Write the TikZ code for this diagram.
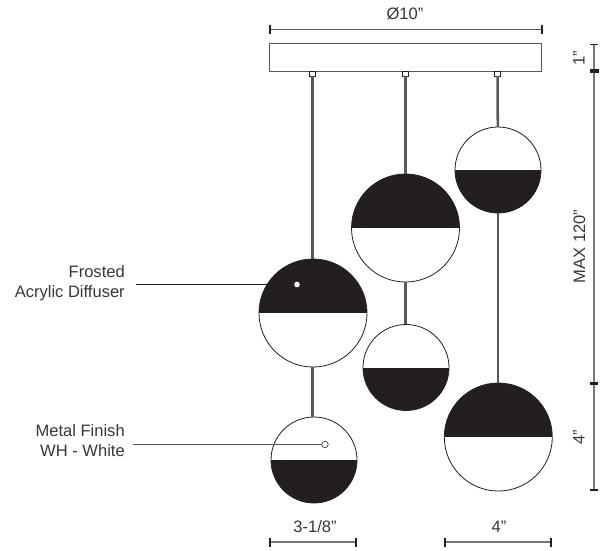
\documentclass[tikz,border=0pt]{standalone}
\usepackage{fontspec}
\setmainfont{Liberation Sans}
\definecolor{ink}{HTML}{231F20}
\definecolor{cordc}{HTML}{58595B}
\definecolor{dimc}{HTML}{77787B}
\tikzset{
  x=0.75pt,y=-0.75pt,
  lampbase/.style={circle,draw=ink,line width=0.6pt,fill=white,inner sep=0pt,outer sep=0pt},
  lamptop/.style={lampbase,minimum size=#1*0.75pt,path picture={
    \fill[ink] (path picture bounding box.north west) rectangle (path picture bounding box.east);}},
  lampbot/.style={lampbase,minimum size=#1*0.75pt,path picture={
    \fill[ink] (path picture bounding box.west) rectangle (path picture bounding box.south east);}},
  mount/.style={draw=ink,line width=0.4pt,fill=white,minimum width=4.2pt,minimum height=3.6pt,inner sep=0pt,outer sep=0pt},
  canopy/.style={draw=cordc,line width=0.7pt,fill=white,minimum width=204pt,minimum height=20.4pt,inner sep=0pt,outer sep=0pt},
  cord/.style={draw=cordc,line width=1.9pt},
  dimline/.style={draw=dimc,line width=1.1pt},
  dimtick/.style={draw=ink,line width=1.1pt},
  leader/.style={draw=ink,line width=0.9pt},
  lbl/.style={font=\fontsize{12.4pt}{15pt}\selectfont,text=ink!90!white,inner sep=0pt},
  lblr/.style={lbl,align=right,anchor=east},
}
\begin{document}
\begin{tikzpicture}
\useasboundingbox (0,0) rectangle (605,550);
% canopy and mounts
\node[canopy] (can) at (405.6,57.5) {};
\node[mount] (m1) at (312.3,73.5) {};
\node[mount] (m2) at (405.5,73.5) {};
\node[mount] (m3) at (497.5,73.5) {};
% lamps
\node[lamptop=108] (a) at (313,313) {};
\node[lampbot=86] (b) at (314,460) {};
\node[lamptop=108] (c) at (405.5,228) {};
\node[lampbot=86] (d) at (406,367.5) {};
\node[lampbot=86] (e) at (498,170) {};
\node[lamptop=108] (f) at (498.3,437) {};
% cords
\draw[cord] (m1.south) -- (312.3,259);
\draw[cord] (312.3,367) -- (312.3,417);
\draw[cord] (m2.south) -- (405.5,174);
\draw[cord] (405.5,282) -- (405.5,324);
\draw[cord] (m3.south) -- (497.8,127);
\draw[cord] (497.8,213) -- (497.8,383);
% top dimension
\coordinate (t1) at (270,29.5);
\coordinate (t2) at (542,29.5);
\draw[dimline,draw=cordc] (t1) -- (t2);
\draw[dimtick] (270,25) -- (270,34);
\draw[dimtick] (542,25) -- (542,34);
\node[lbl] (tt) at (405,14) {Ø10”};
% right dimension
\coordinate (r1) at (594,44.7);
\coordinate (r2) at (594,490);
\draw[dimline] (r1) -- (r2);
\draw[dimtick] (590,44.7) -- (598,44.7);
\draw[dimtick,line width=2.6pt] (590,71) -- (599,71);
\draw[dimtick,line width=1.6pt] (590,383.5) -- (598,383.5);
\draw[dimtick] (590,490) -- (598,490);
\node[lbl,rotate=90] (r1t) at (579,58) {1”};
\node[lbl,rotate=90] (r2t) at (579.5,246.5) {MAX 120”};
\node[lbl,rotate=90] (r3t) at (579,437) {4”};
% bottom dimensions
\coordinate (b1) at (270,542);
\coordinate (b2) at (356,542);
\coordinate (b3) at (445,542);
\coordinate (b4) at (551,542);
\draw[dimline] (b1) -- (b2);
\draw[dimline] (b3) -- (b4);
\foreach \p in {270,356,445,551} \draw[dimtick] (\p,537.5) -- (\p,546.5);
\node[lbl] (bt1) at (315,527) {3-1/8”};
\node[lbl] (bt2) at (499,527) {4”};
% callouts
\node[lblr] (fr) at (125,283.5) {Frosted\\Acrylic Diffuser};
\node[lblr] (mf) at (125,440.5) {Metal Finish\\WH - White};
\node[circle,fill=white,inner sep=0pt,minimum size=4.2pt] (d1) at (297,284.5) {};
\node[circle,fill=white,draw=ink,line width=0.45pt,inner sep=0pt,minimum size=4.8pt] (d2) at (325,444.5) {};
\draw[leader] (136,284.5) -- (d1.west);
\draw[leader,draw=cordc] (133,444.5) -- (d2.west);
\end{tikzpicture}
\end{document}
